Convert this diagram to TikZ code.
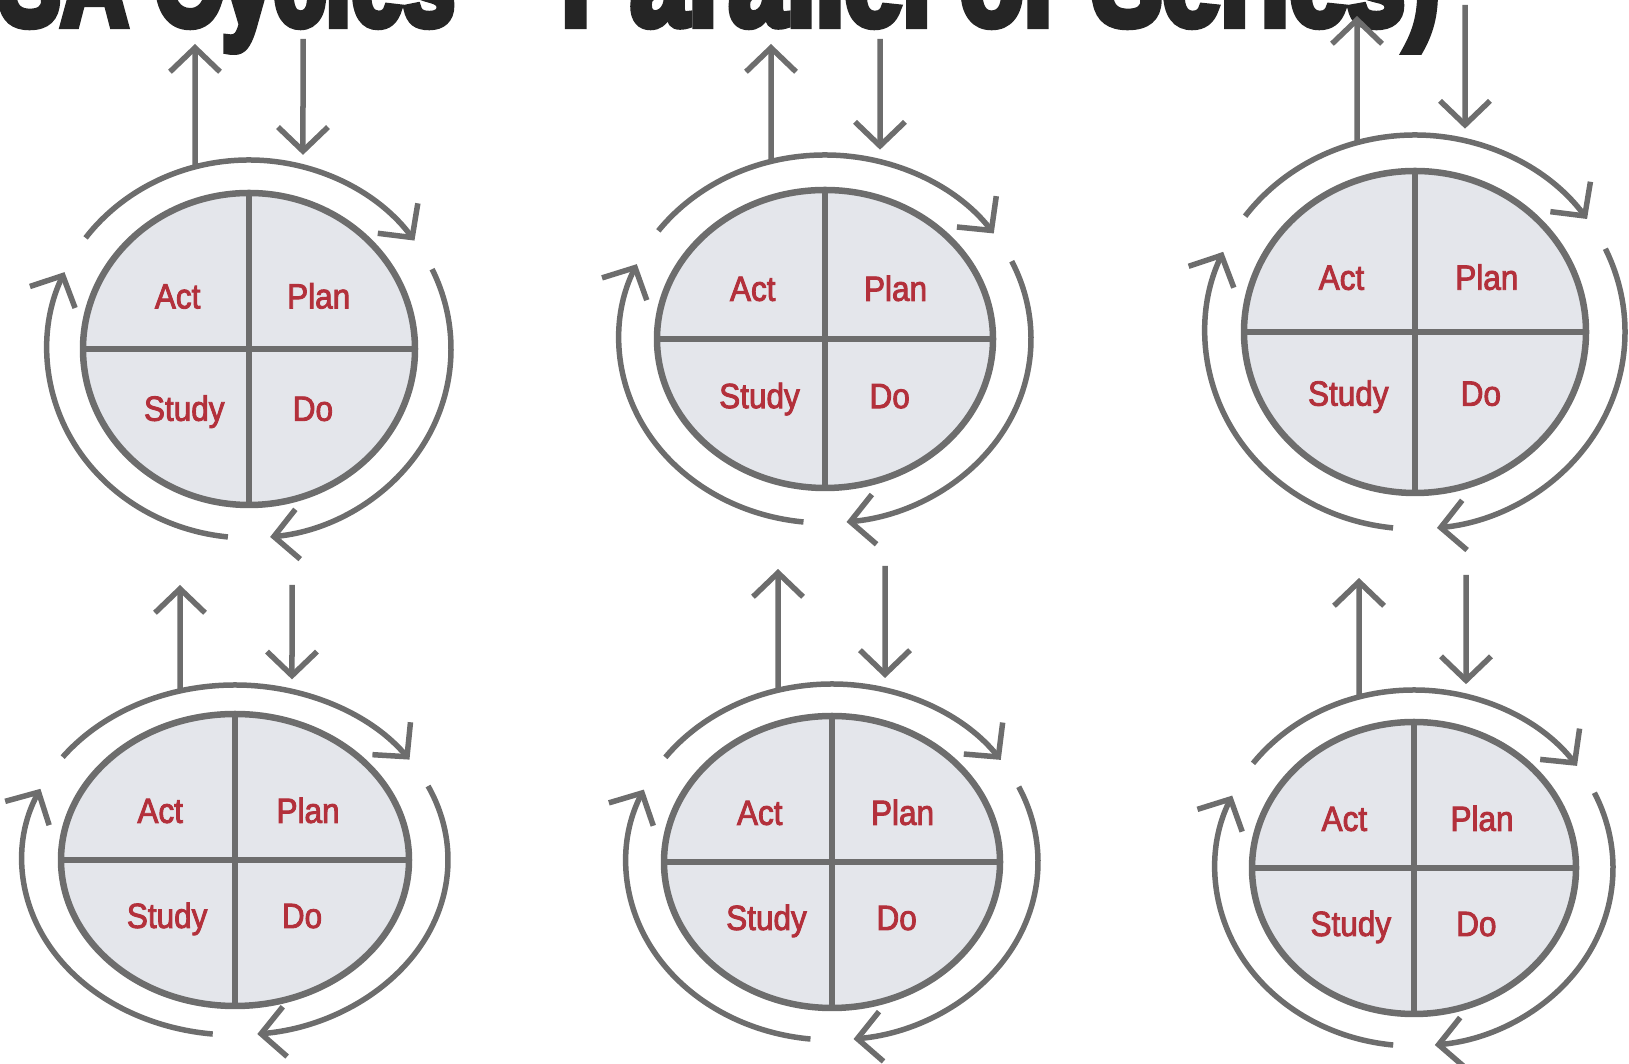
\documentclass[tikz,border=0pt]{standalone}
\usepackage{fontspec}
\usetikzlibrary{arrows.meta,calc}
\newfontfamily\labelfont{Liberation Sans}[FakeStretch=0.9,FakeBold=2.5]
\newfontfamily\titlefont{Liberation Sans}[BoldFeatures={FakeBold=6.5}]
\definecolor{ringgray}{HTML}{6D6D6D}
\definecolor{cellfill}{HTML}{E4E6EB}
\definecolor{labelred}{HTML}{B3303B}
\definecolor{titleink}{HTML}{252525}
\tikzset{
  ring/.style={draw=ringgray, line width=5.5pt},
  flow/.style={ring, -{Straight Barb[length=24pt,width=50pt]}},
  divider/.style={draw=ringgray, line width=6pt},
  rim/.style={draw=ringgray, line width=6.5pt},
  phase/.style={text=labelred, font=\labelfont\fontsize{35}{35}\selectfont, inner sep=0pt, anchor=base},
  titletext/.style={text=titleink, inner sep=0pt, anchor=base west, font=\titlefont\bfseries\fontsize{10}{10}\selectfont},
}
\begin{document}
\begin{tikzpicture}[x=1pt,y=1pt]
\useasboundingbox (0,0) rectangle (1629,1064);
\clip (0,0) rectangle (1629,1064);

% heading, only its lower part lies inside the page
\node[titletext] (headA) at (-131.5,1039) {\scalebox{9.34}[12.5]{PDSA Cycles}};
\node[titletext] (headB) at (561,1039) {\scalebox{10.4}[12.5]{Parallel or Series)}};

% six PDSA wheels: id / centre / inner radii / outer radii / up-arrow x-offset, tip / down-arrow x-offset, top
\foreach \id/\cx/\cy/\ia/\ib/\oa/\ob/\ux/\uy/\dx/\dy in {
  1/249/715/166/156/202/189/-54/1020/54/1025,
  2/825/725/168/149/206/184/-54/1020/55/1025,
  3/1415/732/171/161/210/197/-58/1048/50/1059,
  4/235/204/174/146/213/175/-55/479/57/479,
  5/832/202/168/146/206/178/-54/495/53/498,
  6/1414/196/162/146/199/178/-55/486/52/489}
{
  \coordinate (c\id) at (\cx,\cy);
  % circulating arrows round the wheel
  \draw[flow] ($(c\id)+(144:{\oa} and {\ob})$) arc[start angle=144, end angle=35, x radius=\oa, y radius=\ob];
  \draw[flow] ($(c\id)+(25:{\oa} and {\ob})$) arc[start angle=25, end angle=-84, x radius=\oa, y radius=\ob];
  \draw[flow] ($(c\id)+(264:{\oa} and {\ob})$) arc[start angle=264, end angle=156, x radius=\oa, y radius=\ob];
  % output and input arrows above the wheel
  \pgfmathsetmacro\ua{acos(\ux/\oa)}
  \pgfmathsetmacro\da{acos(\dx/\oa)}
  \coordinate (ubase\id) at ($(c\id)+(\ua:{\oa} and {\ob})$);
  \coordinate (utip\id) at ({\cx+(\ux)},\uy);
  \coordinate (dtop\id) at ({\cx+(\dx)},\dy);
  \coordinate (dtip\id) at ($(c\id)+(\da:{\oa} and {\ob})+(0,12)$);
  \draw[flow] (ubase\id) -- (utip\id);
  \draw[flow] (dtop\id) -- (dtip\id);
  % the wheel and its quadrants
  \fill[cellfill] (c\id) ellipse[x radius=\ia, y radius=\ib];
  \coordinate (n\id) at ($(c\id)+(0,\ib)$);
  \coordinate (s\id) at ($(c\id)+(0,-\ib)$);
  \coordinate (w\id) at ($(c\id)+(-\ia,0)$);
  \coordinate (e\id) at ($(c\id)+(\ia,0)$);
  \draw[divider] (n\id) -- (s\id);
  \draw[divider] (w\id) -- (e\id);
  \draw[rim] (c\id) ellipse[x radius=\ia, y radius=\ib];
  \node[phase] (act\id)   at ($(c\id)+({-0.43*\ia},{0.34*\ib-12.5})$) {Act};
  \node[phase] (plan\id)  at ($(c\id)+({0.42*\ia},{0.34*\ib-12.5})$) {Plan};
  \node[phase] (study\id) at ($(c\id)+({-0.39*\ia},{-0.38*\ib-12.5})$) {Study};
  \node[phase] (do\id)    at ($(c\id)+({0.385*\ia},{-0.38*\ib-12.5})$) {Do};
}
\end{tikzpicture}
\end{document}
